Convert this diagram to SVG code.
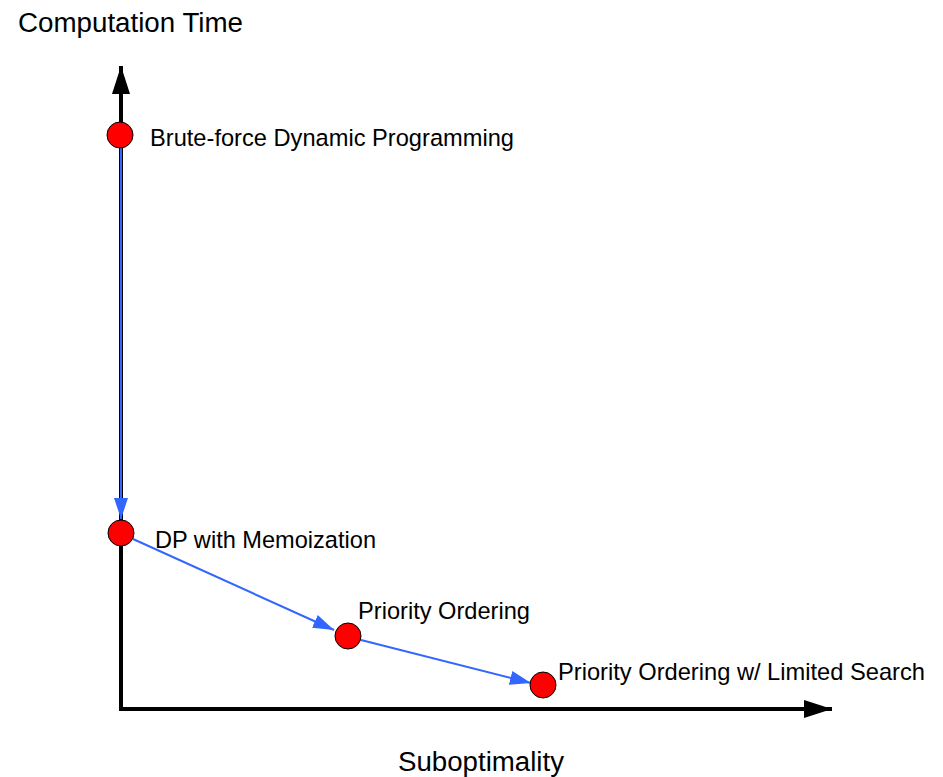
<svg xmlns="http://www.w3.org/2000/svg" width="943" height="777" viewBox="0 0 943 777">
<style>
text{font-family:"Liberation Sans",Arial,sans-serif;fill:#000}
.lbl{font-size:24.5px}
.ax{font-size:27px}
.axis{stroke:#000;stroke-width:4;fill:none}
.conn{stroke:#3366ff;stroke-width:2;fill:none}
.dot{fill:#ff0000;stroke:#000;stroke-width:1}
</style>
<defs>
<marker id="blk" markerUnits="userSpaceOnUse" markerWidth="30" markerHeight="20" refX="28" refY="9" orient="auto" viewBox="0 0 30 18">
<path d="M0,0 L28,9 L0,18 Z" fill="#000"/>
</marker>
<marker id="blu" markerUnits="userSpaceOnUse" markerWidth="22" markerHeight="16" refX="21" refY="7" orient="auto" viewBox="0 0 22 14">
<path d="M0,0 L21,7 L0,14 Z" fill="#3366ff"/>
</marker>
</defs>
<g id="axes">
<path class="axis" d="M121,710 L121,66" marker-end="url(#blk)"/>
<path class="axis" d="M119,709 L832,709" marker-end="url(#blk)"/>
<text class="ax" x="18" y="32" textLength="225" lengthAdjust="spacingAndGlyphs">Computation Time</text>
<text class="ax" x="398" y="771" textLength="166" lengthAdjust="spacingAndGlyphs">Suboptimality</text>
</g>
<g id="connectors">
<path class="conn" d="M121,148 L121,519" marker-end="url(#blu)"/>
<path class="conn" d="M133,539 L334,630" marker-end="url(#blu)"/>
<path class="conn" d="M361,640 L531,683" marker-end="url(#blu)"/>
</g>
<g id="n1"><circle class="dot" cx="120" cy="135" r="13"/><text class="lbl" x="150" y="146" textLength="364" lengthAdjust="spacingAndGlyphs">Brute-force Dynamic Programming</text></g>
<g id="n2"><circle class="dot" cx="121" cy="533" r="13"/><text class="lbl" x="155" y="548" textLength="221" lengthAdjust="spacingAndGlyphs">DP with Memoization</text></g>
<g id="n3"><circle class="dot" cx="348" cy="636" r="13"/><text class="lbl" x="358" y="619" textLength="172" lengthAdjust="spacingAndGlyphs">Priority Ordering</text></g>
<g id="n4"><circle class="dot" cx="543" cy="685" r="13"/><text class="lbl" x="558" y="680" style="font-size:24px" textLength="367" lengthAdjust="spacingAndGlyphs">Priority Ordering w/ Limited Search</text></g>
</svg>
